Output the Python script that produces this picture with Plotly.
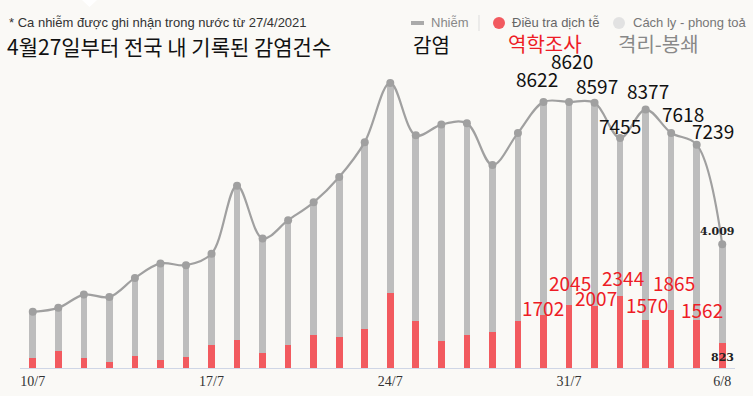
import plotly.graph_objects as go

# ---------------- data ----------------
dates = ["10/7", "11/7", "12/7", "13/7", "14/7", "15/7", "16/7", "17/7", "18/7", "19/7",
         "20/7", "21/7", "22/7", "23/7", "24/7", "25/7", "26/7", "27/7", "28/7", "29/7",
         "30/7", "31/7", "1/8", "2/8", "3/8", "4/8", "5/8", "6/8"]
infected = [1820, 1950, 2380, 2300, 2920, 3390, 3330, 3700, 5910, 4200,
            4790, 5370, 6190, 7320, 9240, 7540, 7890, 7930, 6580, 7620,
            8622, 8620, 8597, 7455, 8377, 7618, 7239, 4009]
investigated = [330, 550, 330, 200, 405, 265, 365, 740, 910, 485,
                740, 1060, 990, 1265, 2445, 1530, 870, 1060, 1165, 1530,
                1702, 2045, 2007, 2344, 1570, 1865, 1562, 823]
tick_labels = ["10/7", "17/7", "24/7", "31/7", "6/8"]
tick_index = [0, 7, 14, 21, 27]

note_text = "* Ca nhiễm được ghi nhận trong nước từ 27/4/2021"
title_ko = "4월27일부터 전국 내 기록된 감염건수"
legend_vi = ["Nhiễm", "Điều tra dịch tễ", "Cách ly - phong toả"]
legend_ko = ["감염", "역학조사", "격리-봉쇄"]
black_labels = {20: "8622", 21: "8620", 22: "8597", 23: "7455", 24: "8377", 25: "7618", 26: "7239"}
red_labels = {20: "1702", 21: "2045", 22: "2007", 23: "2344", 24: "1570", 25: "1865", 26: "1562"}

# ---------------- layout geometry ----------------
W, H = 753, 396
L, R, T, B = 20, 18, 57, 28
PW, PH = W - L - R, H - T - B
YMAX = 10080

def px(x, y):
    return (x - L) / PW, (H - B - y) / PH

x_idx = list(range(len(dates)))

GRAY_BAR = "#bdbdbd"
RED = "#f25a5f"
LINE = "#a0a0a0"
BG = "#faf9f6"

fig = go.Figure()
fig.add_trace(go.Bar(x=x_idx, y=infected, width=0.26, marker=dict(color=GRAY_BAR, line=dict(width=0)),
                     hoverinfo="skip", showlegend=False))
fig.add_trace(go.Bar(x=x_idx, y=investigated, width=0.26, marker=dict(color=RED, line=dict(width=0)),
                     hoverinfo="skip", showlegend=False))
fig.add_trace(go.Scatter(x=x_idx, y=infected, mode="lines+markers",
                         line=dict(color=LINE, width=2.2, shape="spline", smoothing=1.0),
                         marker=dict(color=LINE, size=8), hoverinfo="skip", showlegend=False))

annotations = []
shapes = []

def text_px(x, y, text, size, color, family="Noto Sans CJK KR", xanchor="left", bold=False):
    ax, ay = px(x, y)
    annotations.append(dict(x=ax, y=ay, xref="paper", yref="paper", text=(f"<b>{text}</b>" if bold else text),
                            showarrow=False, xanchor=xanchor, yanchor="middle",
                            font=dict(size=size, color=color, family=family)))

# header texts
text_px(7, 22, note_text, 13, "#333333", family="Liberation Sans, Arial")
text_px(5, 46, title_ko, 21, "#111111")

# legend
x0, y0 = px(411, 23)
x1, _ = px(424, 23)
shapes.append(dict(type="line", xref="paper", yref="paper", x0=x0, y0=y0, x1=x1, y1=y0,
                   line=dict(color="#aaaaaa", width=4)))
text_px(429, 23, legend_vi[0], 13, "#888888", family="Liberation Sans, Arial")
sx, sy0 = px(479, 15)
_, sy1 = px(479, 31)
shapes.append(dict(type="line", xref="paper", yref="paper", x0=sx, y0=sy0, x1=sx, y1=sy1,
                   line=dict(color="#dddddd", width=1)))
for cx, col in [(499, RED), (619, "#e2e2e2")]:
    a0, b0 = px(cx - 6, 17)
    a1, b1 = px(cx + 6, 29)
    shapes.append(dict(type="circle", xref="paper", yref="paper", x0=a0, y0=b1, x1=a1, y1=b0,
                       fillcolor=col, line=dict(width=0)))
text_px(510, 23, legend_vi[1], 13, "#666666", family="Liberation Sans, Arial")
text_px(631, 23, legend_vi[2], 13, "#777777", family="Liberation Sans, Arial")
text_px(411, 45, legend_ko[0], 20, "#111111")
text_px(506, 43, legend_ko[1], 20, "#ee1c25")
text_px(616, 43, legend_ko[2], 20, "#888888")

# white notch at top
t0 = px(82, 0)
t1 = px(97, 0)
t2 = px(89.5, 7)
shapes.append(dict(type="path", xref="paper", yref="paper",
                   path=f"M {t0[0]},{t0[1]} L {t1[0]},{t1[1]} L {t2[0]},{t2[1]} Z",
                   fillcolor="#ffffff", line=dict(width=0)))

# overlaid value labels (pixel placement)
black_pos = {20: (537, 79), 21: (572, 61), 22: (597, 86), 23: (620, 125),
             24: (648, 90), 25: (683, 114), 26: (713, 130)}
for i, (bx, by) in black_pos.items():
    text_px(bx, by, black_labels[i], 19, "#111111", xanchor="center")
red_pos = {20: (543, 307), 21: (570, 282), 22: (596, 297), 23: (623, 277),
           24: (647, 304), 25: (674, 282), 26: (702, 309)}
for i, (bx, by) in red_pos.items():
    text_px(bx, by, red_labels[i], 19, "#ee1c25", xanchor="center")

last = len(dates) - 1
text_px(717, 231, f"{infected[last] / 1000:.3f}", 11, "#222222", family="DejaVu Serif", xanchor="center", bold=True)
text_px(722, 357, str(investigated[last]), 11, "#222222", family="DejaVu Serif", xanchor="center", bold=True)

fig.update_layout(
    width=W, height=H,
    margin=dict(l=L, r=R, t=T, b=B, pad=0, autoexpand=False),
    paper_bgcolor=BG, plot_bgcolor=BG,
    barmode="overlay", bargap=0,
    annotations=annotations, shapes=shapes,
    xaxis=dict(range=[-0.5, len(dates) - 0.5], tickmode="array", tickvals=tick_index, ticktext=tick_labels,
               showgrid=False, zeroline=False, showline=True, linecolor="#cfd6e6", linewidth=1,
               ticks="", ticklen=0, automargin=False,
               tickfont=dict(family="Liberation Serif, DejaVu Serif", size=14, color="#333333"),
               fixedrange=True),
    yaxis=dict(range=[0, YMAX], visible=False, showgrid=False, zeroline=False, fixedrange=True,
               automargin=False),
)

fig.write_html("out.html", config={"displayModeBar": False},
               post_script="document.body.style.margin='0';document.body.style.overflow='hidden';")
